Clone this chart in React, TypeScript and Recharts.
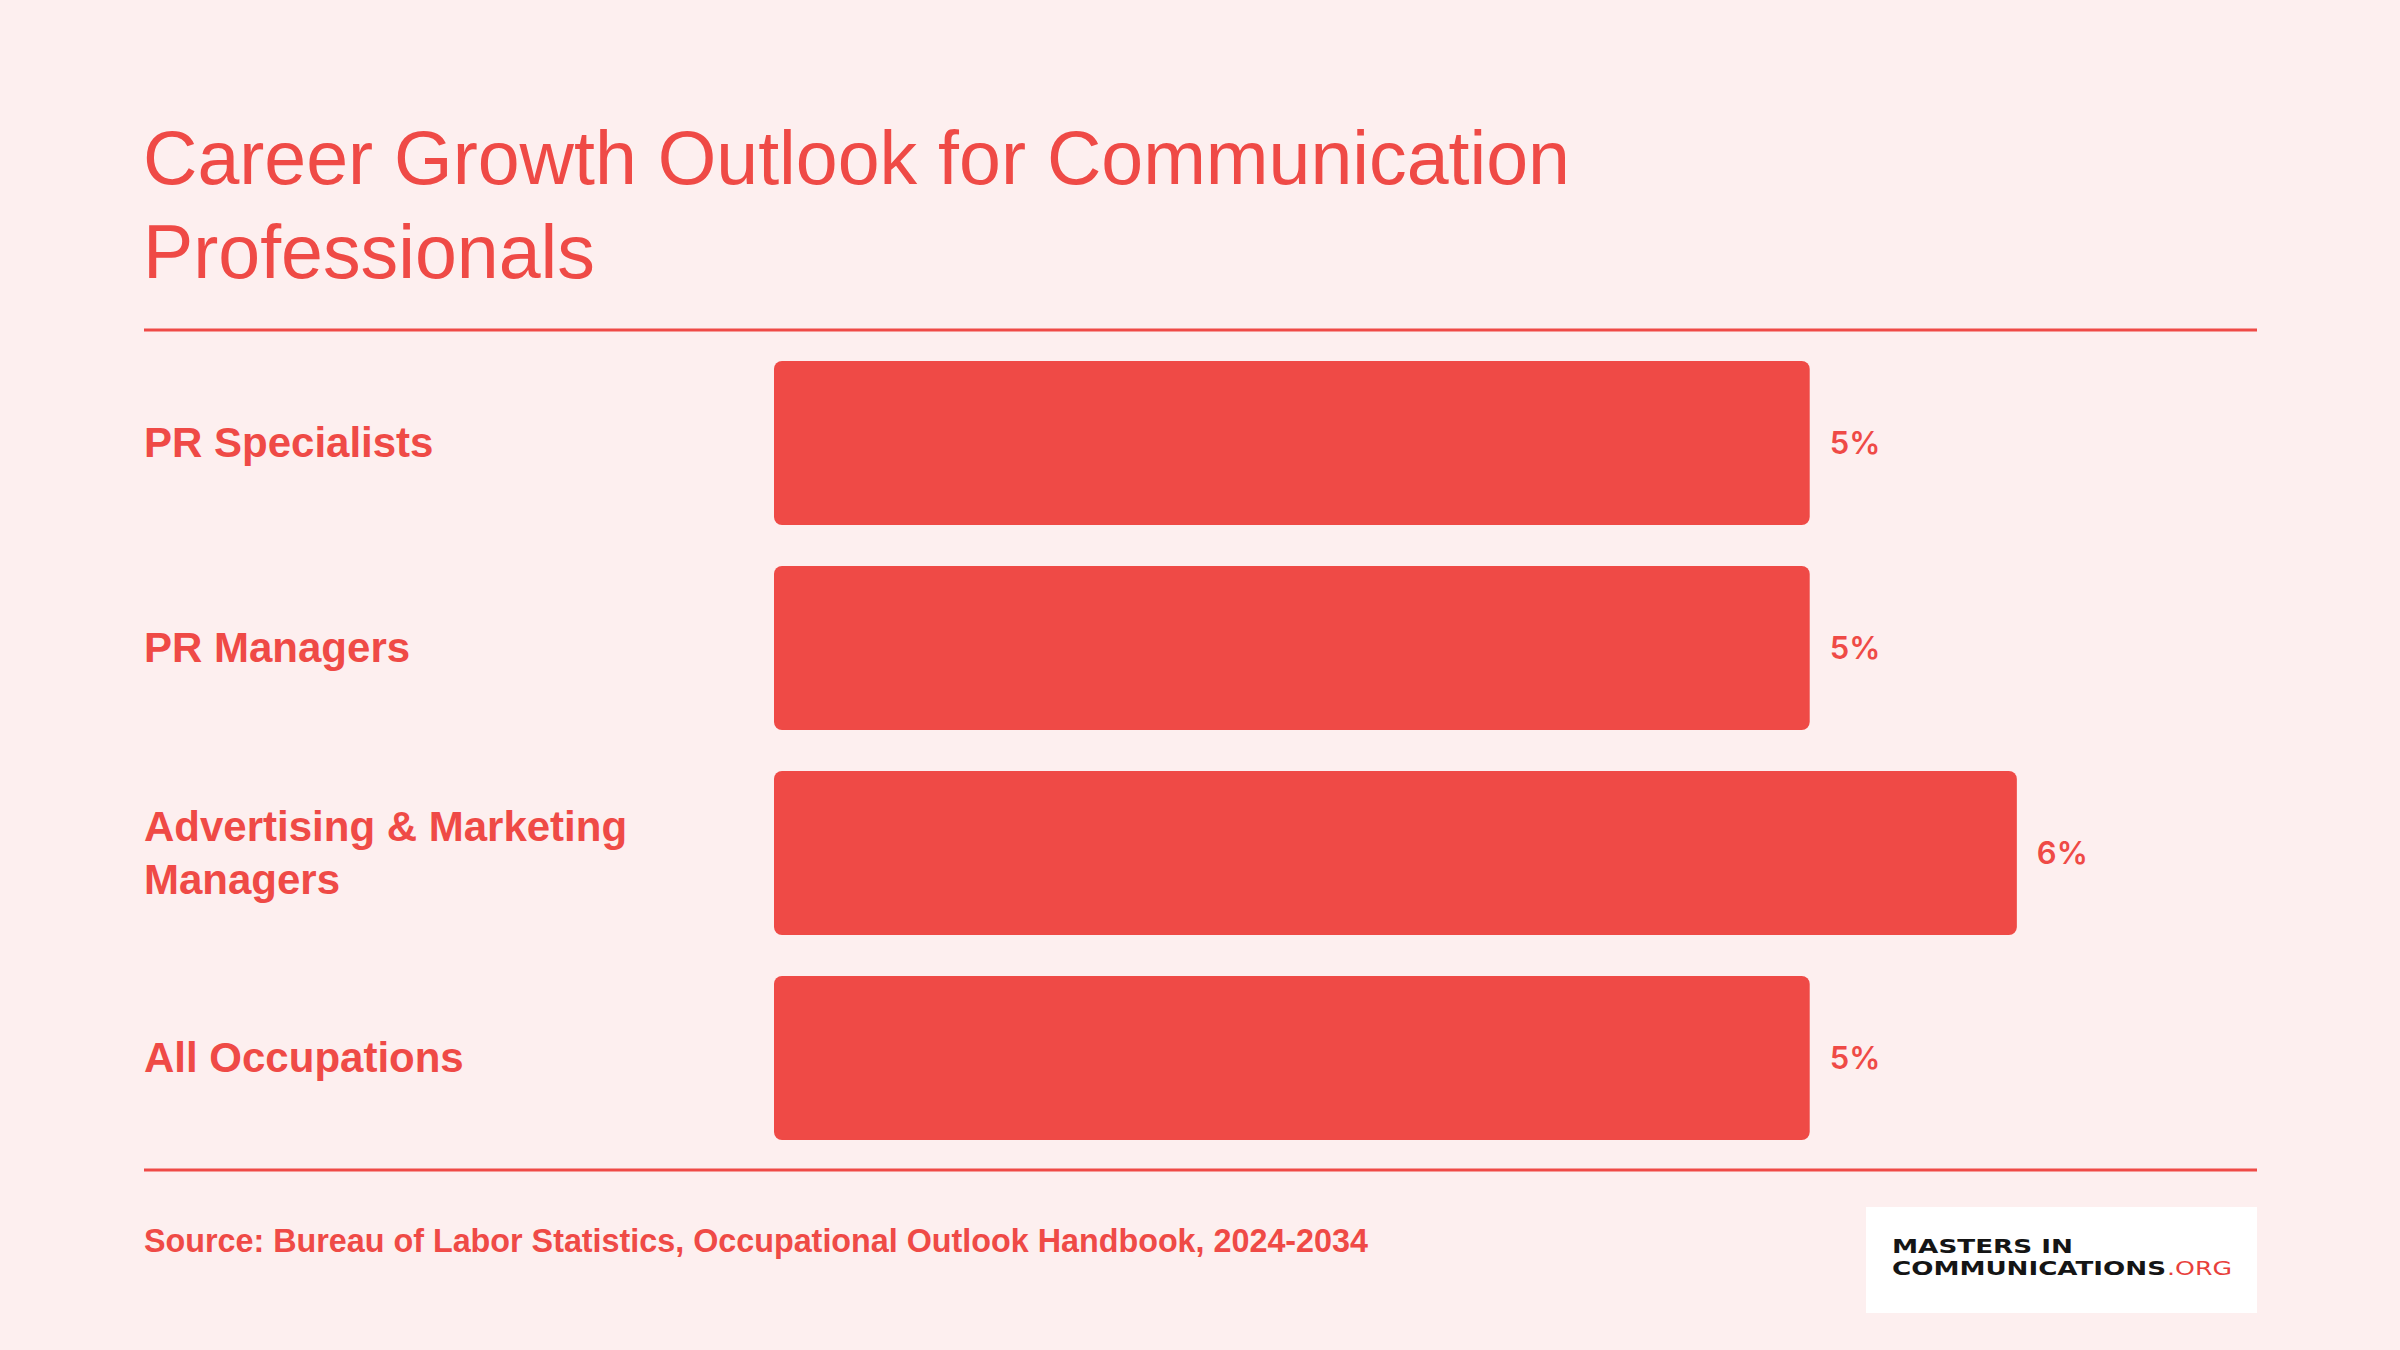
import React from 'react';
import { BarChart, Bar, XAxis, YAxis, LabelList } from 'recharts';

// Projected employment growth, 2024-2034 (percent)
const categories = [
  'PR Specialists',
  'PR Managers',
  'Advertising & Marketing Managers',
  'All Occupations',
];
const growth = [5, 5, 6, 5];

const titleLines = ['Career Growth Outlook for Communication', 'Professionals'];
const sourceText = 'Source: Bureau of Labor Statistics, Occupational Outlook Handbook, 2024-2034';

const RED = '#EF4A46';
const BG = '#FDEFEF';
const SANS = '"Liberation Sans", Arial, Helvetica, sans-serif';

const data = categories.map((name, i) => ({ name, growth: growth[i] }));

const TICK_FONT = `700 42px ${SANS}`;
const TICK_WIDTH = 520;
const TICK_LINE = 53;

let measureCtx: CanvasRenderingContext2D | null = null;
function measure(text: string): number {
  if (!measureCtx && typeof document !== 'undefined') {
    measureCtx = document.createElement('canvas').getContext('2d');
  }
  if (!measureCtx) return text.length * 23;
  measureCtx.font = TICK_FONT;
  return measureCtx.measureText(text).width;
}

// Greedy word wrap for the category labels
function wrap(label: string): string[] {
  const words = label.split(' ');
  const lines: string[] = [];
  let current = '';
  words.forEach((w) => {
    const next = current ? `${current} ${w}` : w;
    if (current && measure(next) > TICK_WIDTH) {
      lines.push(current);
      current = w;
    } else {
      current = next;
    }
  });
  if (current) lines.push(current);
  return lines;
}

const CategoryTick = (props: any) => {
  const { y, payload } = props;
  const lines = wrap(String(payload.value));
  const firstDy = -((lines.length - 1) / 2) * TICK_LINE + 42 * 0.355;
  return (
    <text
      x={144}
      y={y}
      textAnchor="start"
      fill={RED}
      fontSize={42}
      fontWeight={700}
      fontFamily={SANS}
    >
      {lines.map((line, i) => (
        <tspan key={i} x={144} dy={i === 0 ? firstDy : TICK_LINE}>
          {line}
        </tspan>
      ))}
    </text>
  );
};

export default function App() {
  return (
    <div
      style={{
        position: 'fixed',
        left: 0,
        top: 0,
        width: 2400,
        height: 1350,
        background: BG,
        overflow: 'hidden',
      }}
    >
      <svg
        width={2400}
        height={1350}
        style={{ position: 'absolute', left: 0, top: 0 }}
      >
        {titleLines.map((line, i) => (
          <text
            key={line}
            x={143}
            y={184 + i * 94}
            fill={RED}
            fontSize={75.3}
            fontFamily={SANS}
          >
            {line}
          </text>
        ))}
        <rect x={144} y={328.5} width={2113} height={3} fill={RED} />
        <rect x={144} y={1168.5} width={2113} height={3} fill={RED} />
        <text
          x={144}
          y={1252}
          fill={RED}
          fontSize={32.3}
          fontWeight={700}
          fontFamily={SANS}
        >
          {sourceText}
        </text>
        <rect x={1866} y={1207} width={391} height={106} fill="#FFFFFF" />
        <text
          x={1892}
          y={1253}
          fill="#151515"
          fontSize={20}
          fontWeight={700}
          fontFamily='"DejaVu Sans", sans-serif'
          textLength={181}
          lengthAdjust="spacingAndGlyphs"
        >
          MASTERS IN
        </text>
        <text
          x={1892}
          y={1275}
          fill="#151515"
          fontSize={20}
          fontWeight={700}
          fontFamily='"DejaVu Sans", sans-serif'
          textLength={274}
          lengthAdjust="spacingAndGlyphs"
        >
          COMMUNICATIONS
        </text>
        <text
          x={2167}
          y={1275}
          fill="#E8403B"
          fontSize={20}
          fontWeight={400}
          fontFamily='"DejaVu Sans", sans-serif'
          textLength={65}
          lengthAdjust="spacingAndGlyphs"
        >
          .ORG
        </text>
      </svg>

      <div style={{ position: 'absolute', left: 0, top: 340 }}>
        <BarChart
          width={2400}
          height={820}
          data={data}
          layout="vertical"
          margin={{ top: 0, right: 176, bottom: 0, left: 0 }}
          barCategoryGap={0}
        >
          <XAxis type="number" domain={[0, 7]} hide />
          <YAxis
            type="category"
            dataKey="name"
            width={774}
            axisLine={false}
            tickLine={false}
            tick={<CategoryTick />}
            interval={0}
          />
          <Bar
            dataKey="growth"
            fill={RED}
            barSize={164}
            radius={8}
            isAnimationActive={false}
          >
            <LabelList
              dataKey="growth"
              position="right"
              offset={20}
              formatter={(v: any) => `${v}%`}
              fill={RED}
              fontSize={31}
              fontWeight={600}
              fontFamily='Inter, "Liberation Sans", sans-serif'
            />
          </Bar>
        </BarChart>
      </div>
    </div>
  );
}
